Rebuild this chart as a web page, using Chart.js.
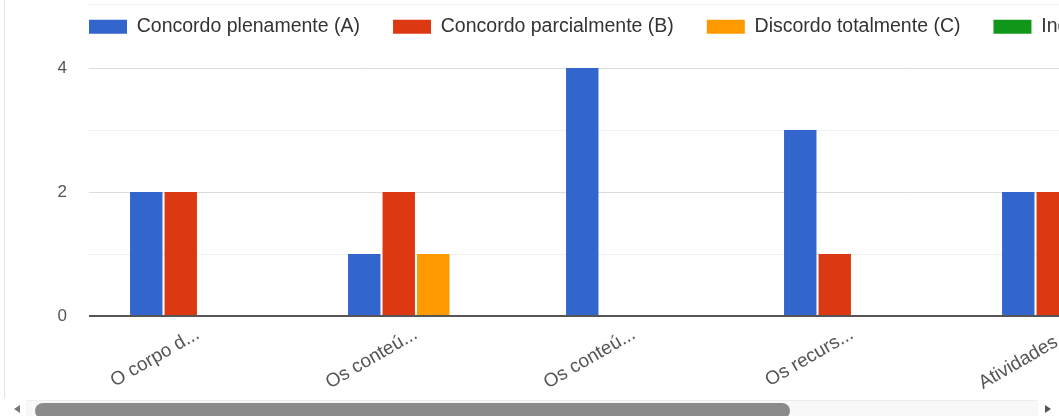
<!DOCTYPE html>
<html lang="pt">
<head>
<meta charset="utf-8">
<title>Respostas</title>
<script src="https://cdn.jsdelivr.net/npm/chart.js@4.4.1/dist/chart.umd.min.js"></script>
<style>
    html, body { margin: 0; padding: 0; background: #fff; }
    body { width: 1059px; height: 416px; overflow: hidden; position: relative; }
    .card-edge { position: absolute; left: 4px; top: 0; width: 1px; height: 398px; background: #e2e2e2; }
    .top-rule { position: absolute; left: 89px; top: 4px; width: 970px; height: 1px; background: #f1f1f1; }
    .chart-wrap { position: absolute; left: 56px; top: -16px; width: 1273px; height: 420px; }
    .scroll-track { position: absolute; left: 26px; top: 400px; width: 1012px; height: 16px; background: #f8f8f8; border-top: 1px solid #ededed; }
    .scroll-thumb { position: absolute; left: 35px; top: 403px; width: 755px; height: 16px; background: #8b8b8b; border-radius: 8px; }
    .arrow-l { position: absolute; left: 14px; top: 405px; width: 0; height: 0;
               border-top: 4px solid transparent; border-bottom: 4px solid transparent; border-right: 6px solid #777; }
    .arrow-r { position: absolute; left: 1045px; top: 405px; width: 0; height: 0;
               border-top: 4px solid transparent; border-bottom: 4px solid transparent; border-left: 6px solid #555; }
</style>
</head>
<body>
<div class="card-edge"></div>
<div class="top-rule"></div>
<div class="chart-wrap"><canvas id="answersChart" width="1273" height="420"></canvas></div>
<div class="scroll-track"></div>
<div class="scroll-thumb"></div>
<div class="arrow-l"></div>
<div class="arrow-r"></div>

<script>
// ─── DATA ─────────────────────────────────────────────────────────────────────
const categories = ['O corpo d...', 'Os conteú...', 'Os conteú...', 'Os recurs...', 'Atividades...'];
const seriesNames = ['Concordo plenamente (A)', 'Concordo parcialmente (B)', 'Discordo totalmente (C)', 'Indiferente (D)'];
const valuesA = [2, 1, 4, 3, 2];
const valuesB = [2, 2, 0, 1, 2];
const valuesC = [0, 1, 0, 0, 0];
const valuesD = [0, 0, 0, 0, 0];
const yMax = 4;

// ─── CHART DEFAULTS ───────────────────────────────────────────────────────────
Chart.defaults.font.family = "'Liberation Sans', Arial, sans-serif";
Chart.defaults.color = '#444';

const palette = ['#3366cc', '#dc3912', '#ff9900', '#109618'];
const allValues = [valuesA, valuesB, valuesC, valuesD];

// ─── ANSWERS CHART ────────────────────────────────────────────────────────────
new Chart(document.getElementById('answersChart'), {
    type: 'bar',
    data: {
        labels: categories,
        datasets: seriesNames.map((name, i) => ({
            label: name,
            data: allValues[i],
            backgroundColor: palette[i],
            borderWidth: 0,
            categoryPercentage: 0.633,
            barPercentage: 0.94
        }))
    },
    options: {
        responsive: false,
        animation: false,
        plugins: {
            legend: {
                position: 'top',
                align: 'start',
                labels: { boxWidth: 38, boxHeight: 14, padding: 33, color: '#333', font: { size: 19.5 } }
            },
            // empty spacer between legend and plot
            subtitle: { display: true, text: '', weight: 100, padding: 0, font: { size: 21.5, lineHeight: 1 } },
            tooltip: { enabled: false }
        },
        scales: {
            x: {
                grid: { display: false, drawTicks: false },
                border: { display: false },
                ticks: { autoSkip: false, minRotation: 30, maxRotation: 30, padding: 7, color: '#555', font: { size: 19 } },
                afterFit: s => { s.height = 88; }
            },
            y: {
                min: 0,
                max: yMax,
                border: { display: false },
                grid: {
                    drawTicks: false,
                    color: c => c.tick.value === 0 ? '#555' : (c.tick.value % 2 ? '#f0f0f0' : '#dcdcdc'),
                    lineWidth: c => c.tick.value === 0 ? 2 : 1
                },
                ticks: { stepSize: 1, padding: 22, color: '#555', font: { size: 17 }, callback: v => v % 2 === 0 ? v : '' },
                afterFit: s => { s.width = 33; }
            },
            // keeps the legend on one line; lies beyond the visible window
            pad: {
                type: 'linear',
                position: 'right',
                grid: { display: false },
                border: { display: false },
                ticks: { display: false },
                afterFit: s => { s.width = 150; }
            }
        }
    }
});
</script>
</body>
</html>
